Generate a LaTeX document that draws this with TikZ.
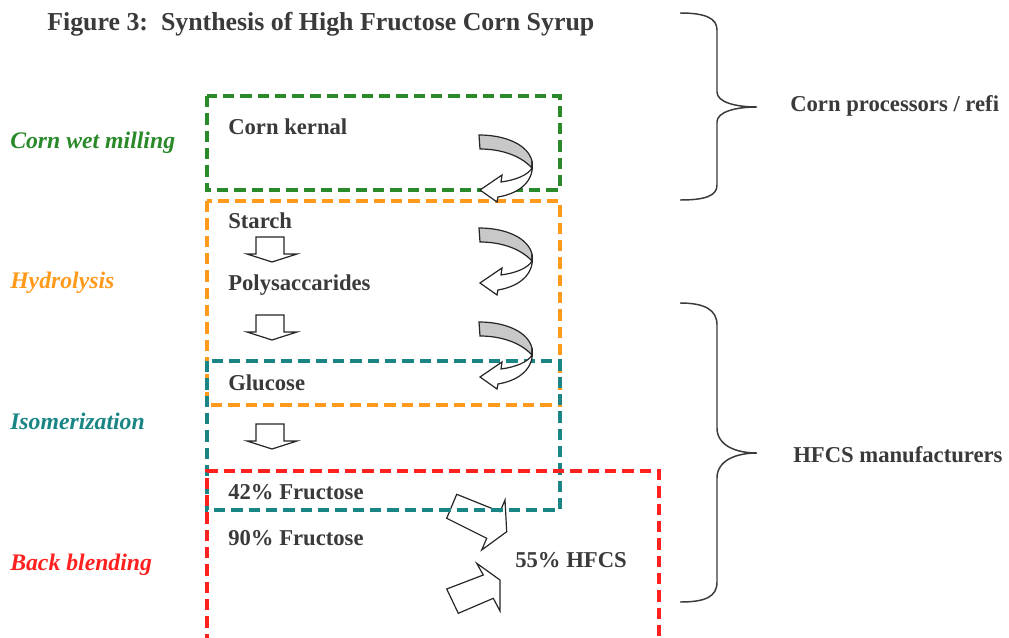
\documentclass[tikz,border=0pt]{standalone}
\usepackage{fontspec}
\setmainfont{Liberation Serif}
\definecolor{txt}{HTML}{3A3A3A}
\definecolor{cgreen}{HTML}{2A8A2A}
\definecolor{corange}{HTML}{FF9A1A}
\definecolor{cteal}{HTML}{1A8585}
\definecolor{cred}{HTML}{FF2020}
\definecolor{cgray}{HTML}{C8C8C8}
\tikzset{
  stagebox/.style={line width=2.5pt, dash pattern=on 8.5pt off 4.5pt},
  body/.style={text=txt, font=\fontsize{17}{20}\selectfont\bfseries, inner sep=0pt, anchor=base west},
  stagelabel/.style={font=\fontsize{17.8}{20}\selectfont\bfseries\itshape, inner sep=0pt, anchor=base west},
  shapeline/.style={draw=black!85, line width=0.9pt, line join=miter},
  bracestyle/.style={draw=txt, line width=1.1pt}
}
\newcommand{\downblock}[1]{% #1 y0
  \draw[shapeline, fill=white] (256,#1) -- (284,#1) -- (284,#1+17) -- (297,#1+17) -- (272,#1+25) -- (247,#1+17) -- (256,#1+17) -- cycle;
}
\newcommand{\curvedblock}[1]{% #1 y0
  \begin{scope}[shift={(478,#1)}]
    \draw[shapeline, fill=cgray] (1,0) .. controls (28,0) and (50,10) .. (54,26) -- (54,33) .. controls (42,20) and (22,14) .. (2,14) -- cycle;
    \draw[shapeline, fill=white] (54,26) .. controls (57,44) and (44,58) .. (20,62) -- (19,67) -- (2,55) -- (24,40) -- (23,47) .. controls (38,45) and (50,40) .. (54,33) -- cycle;
  \end{scope}
}
\begin{document}
\begin{tikzpicture}[x=0.75pt,y=-0.75pt]
\useasboundingbox (0,0) rectangle (1009,638);
\fill[white] (0,0) rectangle (1009,638);

% title
\node[body, font=\fontsize{19.4}{22}\selectfont\bfseries] (title) at (47,31) {Figure 3:\ \ Synthesis of High Fructose Corn Syrup};

% blending arrows (under the dashed boxes)
\draw[shapeline, fill=white] (456.7,494.3) -- (500,511.7) -- (505,500) -- (506.7,531.7) -- (481.7,550) -- (486.7,538.3) -- (446.7,518.3) -- cycle;
\draw[shapeline, fill=white] (446.7,589) -- (483.3,575) -- (476.7,563.3) -- (500,580) -- (500,611) -- (493.3,598.3) -- (458.3,613.3) -- cycle;

% stage boxes
\draw[stagebox, draw=cgreen] (207,96) rectangle (560,190);
\draw[stagebox, draw=corange] (207,201) rectangle (560,405);
\draw[stagebox, draw=cteal] (207,361) rectangle (560,510);
\draw[stagebox, draw=cred] (207,645) -- (207,471) -- (659,471) -- (659,645);

% stage labels
\node[stagelabel, text=cgreen] (l1) at (10,148) {Corn wet milling};
\node[stagelabel, text=corange] (l2) at (10,288) {Hydrolysis};
\node[stagelabel, text=cteal] (l3) at (10,429) {Isomerization};
\node[stagelabel, text=cred] (l4) at (10,570) {Back blending};

% contents
\node[body] (kernal) at (228,135) {Corn kernal};
\node[body] (starch) at (228,228) {Starch};
\node[body] (poly) at (228,290) {Polysaccarides};
\node[body] (glucose) at (228,390) {Glucose};
\node[body] (f42) at (228,499) {42\% Fructose};
\node[body] (f90) at (228,545) {90\% Fructose};
\node[body] (hfcs) at (515,567) {55\% HFCS};

% down block arrows
\downblock{237}
\downblock{315}
\downblock{424}

% curved arrows
\curvedblock{135}
\curvedblock{228}
\curvedblock{322}

% braces
\draw[bracestyle] (680,13) .. controls (705,13) and (717,18) .. (717,30) -- (717,92) .. controls (717,102) and (735,107) .. (757,107) .. controls (735,107) and (717,112) .. (717,122) -- (717,185) .. controls (717,196) and (705,200) .. (680,200);
\draw[bracestyle] (680,303) .. controls (705,303) and (717,310) .. (717,325) -- (717,428) .. controls (717,445) and (735,453) .. (757,453) .. controls (735,453) and (717,461) .. (717,478) -- (717,582) .. controls (717,597) and (705,602) .. (680,602);

\node[body] (corn) at (790,112) {Corn processors / refi};
\node[body] (manu) at (793,462) {HFCS manufacturers};
\end{tikzpicture}
\end{document}
